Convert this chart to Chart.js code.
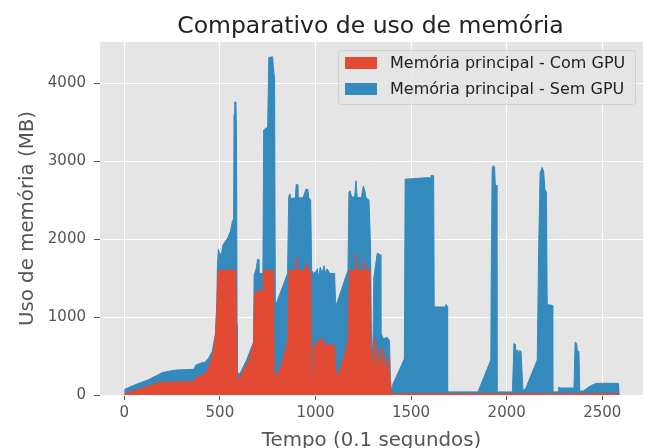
<!DOCTYPE html>
<html><head><meta charset="utf-8">
<script src="https://cdn.jsdelivr.net/npm/chart.js@4.4.0/dist/chart.umd.min.js"></script>
<style>html,body{margin:0;padding:0;background:#fff}canvas{display:block}</style>
</head><body>
<canvas id="c" width="648" height="448"></canvas>
<script>
const xTicks = [0, 500, 1000, 1500, 2000, 2500];
const yTicks = [0, 1000, 2000, 3000, 4000];

const tempoCom = [
  0,60,120,170,200,365,372,420,430,450,
  465,477,484,490,495,570,575,582,588,591,
  600,620,650,676,682,686,725,730,780,784,
  800,830,854,862,895,900,905,945,955,960,
  975,978,985,990,1000,1010,1015,1025,1035,1045,
  1050,1100,1105,1120,1145,1170,1178,1210,1214,1218,
  1250,1254,1260,1285,1290,1300,1310,1318,1325,1338,
  1345,1355,1365,1380,1390,1396,2590];
const memCom = [
  15,60,110,150,165,170,220,270,290,400,
  550,750,1100,1560,1600,1600,1620,1600,700,185,
  200,300,430,660,1300,1330,1330,1600,1600,250,
  250,450,700,1600,1600,1780,1600,1600,1700,1600,
  1600,250,200,620,650,700,600,740,640,720,
  640,640,270,270,450,700,1600,1600,1820,1600,
  1600,1720,1600,1600,600,300,730,600,300,600,
  300,600,300,500,200,15,15];

const tempoSem = [
  0,3,60,120,170,200,270,365,372,400,
  420,440,460,477,484,487,492,498,508,515,
  525,540,555,566,572,574,578,584,587,590,
  592,600,610,640,676,679,690,697,702,704,
  725,729,750,756,776,780,786,790,796,854,
  860,866,872,895,899,904,908,935,950,960,
  965,975,980,990,1000,1010,1015,1025,1035,1045,
  1050,1060,1075,1100,1105,1108,1170,1175,1180,1190,
  1205,1212,1218,1240,1250,1258,1265,1280,1288,1292,
  1300,1305,1323,1338,1342,1355,1375,1387,1392,1398,
  1405,1465,1469,1595,1600,1604,1618,1621,1680,1683,
  1688,1691,1850,1917,1920,1924,1930,1937,1940,1946,
  1949,2030,2038,2044,2046,2055,2060,2065,2075,2080,
  2085,2099,2160,2167,2175,2185,2193,2200,2208,2212,
  2238,2241,2270,2272,2280,2352,2358,2366,2370,2378,
  2382,2400,2440,2470,2585,2588];
const memSem = [
  40,75,135,190,250,290,320,330,380,410,
  420,470,560,790,1200,1650,1870,1820,1800,1920,
  1960,2010,2100,2230,2260,3600,3760,3760,3300,900,
  300,260,300,450,680,1540,1620,1740,1740,1560,
  1560,3400,3440,4330,4340,4200,4060,1200,1180,1560,
  2540,2580,2520,2530,2700,2700,2530,2530,2640,2640,
  2530,2500,1600,1560,1580,1620,1500,1640,1560,1660,
  1560,1620,1560,1560,1180,1150,1600,2600,2620,2540,
  2540,2750,2540,2530,2680,2620,2530,2500,1900,800,
  500,1500,1820,1800,800,720,740,700,200,30,
  140,465,2770,2790,2780,2815,2815,1130,1130,1160,
  1140,40,40,450,1820,2900,2944,2920,2700,2690,
  40,40,660,650,560,580,520,570,560,560,
  60,80,450,1820,2850,2920,2880,2640,2600,1160,
  1150,40,40,100,90,90,680,660,560,560,
  50,50,120,150,150,0];

const labels = ['Memória principal - Com GPU', 'Memória principal - Sem GPU'];
const titleText = 'Comparativo de uso de memória';
const xLabel = 'Tempo (0.1 segundos)';
const yLabel = 'Uso de memória (MB)';

const RED = '#E24A33', BLUE = '#348ABD';
const pts = (xs, ys) => xs.map((x, i) => ({x: x, y: ys[i]}));
const FONT = "'DejaVu Sans', sans-serif";

const decor = {
  id: 'decor',
  beforeDraw(chart) {
    const {ctx, chartArea: a} = chart;
    ctx.save();
    ctx.fillStyle = '#ffffff';
    ctx.fillRect(0, 0, chart.width, chart.height);
    ctx.fillStyle = '#E5E5E5';
    ctx.fillRect(a.left, a.top, a.right - a.left, a.bottom - a.top);
    ctx.restore();
  },
  afterDraw(chart) {
    const {ctx, chartArea: a} = chart;
    const cx = (a.left + a.right) / 2;
    ctx.save();
    // title
    ctx.fillStyle = '#222222';
    ctx.font = '23.5px ' + FONT;
    ctx.textAlign = 'center';
    ctx.textBaseline = 'alphabetic';
    ctx.fillText(titleText, cx - 1, 33);
    // x label
    ctx.fillStyle = '#555555';
    ctx.font = '19.8px ' + FONT;
    ctx.fillText(xLabel, cx, 445.5);
    // y label
    ctx.save();
    ctx.translate(33, (a.top + a.bottom) / 2);
    ctx.rotate(-Math.PI / 2);
    ctx.fillText(yLabel, 0, 0);
    ctx.restore();
    // legend
    const bx = 338, by = 50, bw = 297, bh = 54;
    ctx.beginPath();
    ctx.roundRect(bx + 0.5, by + 0.5, bw, bh, 3);
    ctx.fillStyle = 'rgba(229,229,229,0.8)';
    ctx.fill();
    ctx.strokeStyle = '#D0D0D0';
    ctx.lineWidth = 1;
    ctx.stroke();
    ctx.font = '16px ' + FONT;
    ctx.textAlign = 'left';
    ctx.textBaseline = 'middle';
    chart.data.datasets.forEach((ds, i) => {
      const yc = 63 + i * 26;
      ctx.fillStyle = ds.backgroundColor;
      ctx.fillRect(bx + 7, yc - 6, 32, 12);
      ctx.fillStyle = '#222222';
      ctx.fillText(ds.label, bx + 52, yc + 1);
    });
    ctx.restore();
  }
};

new Chart(document.getElementById('c'), {
  type: 'line',
  data: {
    datasets: [
      {label: labels[0], data: pts(tempoCom, memCom), borderColor: RED, backgroundColor: RED,
       fill: 'origin', pointRadius: 0, borderWidth: 1, tension: 0},
      {label: labels[1], data: pts(tempoSem, memSem), borderColor: BLUE, backgroundColor: BLUE,
       fill: 'origin', pointRadius: 0, borderWidth: 1, tension: 0}
    ]
  },
  options: {
    responsive: false,
    animation: false,
    devicePixelRatio: 1,
    layout: {padding: {top: 42, right: 5, left: 0, bottom: 0}},
    plugins: {legend: {display: false}, title: {display: false}, tooltip: {enabled: false}},
    scales: {
      x: {
        type: 'linear', min: -127, max: 2713,
        afterBuildTicks: s => { s.ticks = xTicks.map(v => ({value: v})); },
        afterFit: s => { s.height = 53; },
        grid: {color: '#FFFFFF', lineWidth: 1, tickColor: '#555555', tickLength: 5},
        border: {display: false},
        ticks: {font: {family: FONT, size: 15}, color: '#555555', padding: 4, maxRotation: 0,
                callback: v => String(v)}
      },
      y: {
        type: 'linear', min: 0, max: 4530,
        afterBuildTicks: s => { s.ticks = yTicks.map(v => ({value: v})); },
        afterFit: s => { s.width = 100; },
        grid: {color: '#FFFFFF', lineWidth: 1, tickColor: '#555555', tickLength: 6},
        border: {display: false},
        ticks: {font: {family: FONT, size: 15}, color: '#555555', padding: 8,
                callback: v => String(v)}
      }
    }
  },
  plugins: [decor]
});
</script></body></html>
